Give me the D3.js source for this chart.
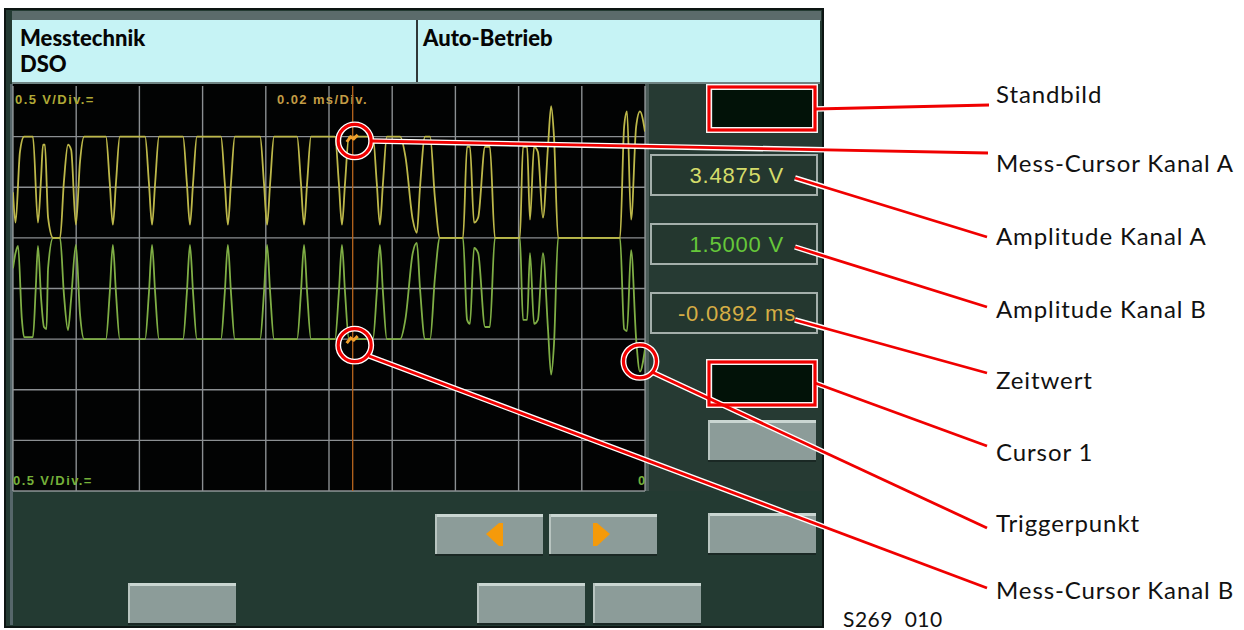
<!DOCTYPE html>
<html>
<head>
<meta charset="utf-8">
<script src="https://cdn.jsdelivr.net/npm/d3@7"></script>
<style>
  body { margin: 0; background: #fff; }
  svg { display: block; font-family: Lato, "DejaVu Sans", sans-serif; }
</style>
</head>
<body>
<svg width="1244" height="630"></svg>
<script>
// ---- data (time in µs, voltage in V) ----
var chanA = [
  [-200,2.95],[-199.2,2.65],[-197.8,3.35],[-196.5,3.5],[-193.7,3.5],[-192.1,2.65],[-191.1,3.1],[-190.5,3.42],[-189.9,3.42],
  [-188.9,2.7],[-187.3,2.5],[-185.1,2.5],[-183.9,3.05],[-182.6,3.42],[-181.6,3.37],[-180.1,2.63],[-178.8,3.25],[-177.5,3.5],
  [-170.6,3.5],[-169.4,3.05],[-168.4,2.63],[-167.4,3.05],[-166.2,3.5],
  [-158.2,3.5],[-157,3.05],[-156,2.63],[-155,3.05],[-153.8,3.5],
  [-146.2,3.5],[-145,3.05],[-144,2.63],[-143,3.05],[-141.8,3.5],
  [-134.2,3.5],[-133,3.05],[-132,2.63],[-131,3.05],[-129.8,3.5],
  [-121.8,3.5],[-120.6,3.05],[-119.6,2.63],[-118.6,3.05],[-117.4,3.5],
  [-110.1,3.5],[-108.9,3.05],[-107.9,2.63],[-106.9,3.05],[-105.7,3.5],
  [-98.1,3.5],[-96.9,3.05],[-95.9,2.63],[-94.9,3.05],[-93.7,3.5],
  [-86.1,3.5],[-84.9,3.05],[-83.9,2.63],[-82.9,3.05],[-81.7,3.5],
  [-77.5,3.5],[-75.8,3.3],[-73.5,2.68],[-72.2,2.55],[-71.2,3.0],[-69.6,3.5],[-68,3.5],[-66.5,2.9],[-64.9,2.5],
  [-57.6,2.5],[-56.3,3.4],[-55.4,3.4],[-54.1,2.65],[-52.8,2.7],[-50.6,3.4],[-49.1,3.4],[-47.5,2.5],
  [-39.6,2.5],[-38.6,3.4],[-37.3,3.4],[-36.4,2.68],[-35.1,3.4],[-33.9,3.35],[-32.3,2.7],[-30.7,3.4],[-29.7,3.8],[-28.8,3.5],[-27.5,2.5],
  [-7.9,2.5],[-6.6,3.6],[-5.7,3.75],[-4.4,2.68],[-2.8,3.6],[-1.6,3.75],[0,3.55]
];
var chanB = [
  [-200,2.2],[-199.2,2.35],[-198.4,2.42],[-197.2,1.7],[-196.5,1.52],[-193.7,1.52],[-192.8,2.0],[-192.1,2.42],[-191.1,1.9],
  [-190.2,1.62],[-189.4,1.6],[-188.9,2.2],[-187.3,2.5],[-185.1,2.5],[-183.9,1.95],[-182.6,1.59],[-181.6,1.9],[-180.1,2.43],[-178.8,1.75],[-177.5,1.5],
  [-170.6,1.5],[-169.4,1.95],[-168.4,2.43],[-167.4,1.95],[-166.2,1.5],
  [-158.2,1.5],[-157,1.95],[-156,2.43],[-155,1.95],[-153.8,1.5],
  [-146.2,1.5],[-145,1.95],[-144,2.43],[-143,1.95],[-141.8,1.5],
  [-134.2,1.5],[-133,1.95],[-132,2.43],[-131,1.95],[-129.8,1.5],
  [-121.8,1.5],[-120.6,1.95],[-119.6,2.43],[-118.6,1.95],[-117.4,1.5],
  [-110.1,1.5],[-108.9,1.95],[-107.9,2.43],[-106.9,1.95],[-105.7,1.5],
  [-98.1,1.5],[-96.9,1.95],[-95.9,2.43],[-94.9,1.95],[-93.7,1.5],
  [-86.1,1.5],[-84.9,1.95],[-83.9,2.43],[-82.9,1.95],[-81.7,1.5],
  [-77.5,1.5],[-75.8,1.7],[-73.5,2.35],[-72.2,2.45],[-71.2,2.0],[-69.6,1.5],[-68,1.5],[-66.5,2.1],[-64.9,2.5],
  [-57.6,2.5],[-56.3,1.69],[-55.4,1.65],[-54.1,2.4],[-52.8,2.35],[-50.6,1.62],[-49.1,1.62],[-47.5,2.5],
  [-39.6,2.5],[-38.6,1.69],[-37.3,1.69],[-36.4,2.35],[-35.1,1.65],[-33.9,1.69],[-32.3,2.35],[-30.7,1.6],[-29.7,1.15],[-28.8,1.45],[-27.5,2.5],
  [-7.9,2.5],[-6.6,1.6],[-5.7,1.58],[-4.4,2.38],[-2.8,1.5],[-1.6,1.18],[0,1.4]
];
var cursorTime = -92.5;       // µs
var cursorVolts = [3.4875, 1.5];
var triggerTime = -1.6;
var triggerVolt = 1.3;
var readouts = ["3.4875 V", "1.5000 V", "-0.0892 ms"];
var headerLeft = ["Messtechnik", "DSO"];
var headerRight = "Auto-Betrieb";
var scopeLabels = ["0.5 V/Div.=", "0.02 ms/Div.", "0.5 V/Div.=", "0"];
var callouts = ["Standbild", "Mess-Cursor Kanal A", "Amplitude Kanal A", "Amplitude Kanal B",
                "Zeitwert", "Cursor 1", "Triggerpunkt", "Mess-Cursor Kanal B"];
var figureId = "S269  010";

var svg = d3.select("svg");

// scope scales: 10 div x 0.02 ms, 8 div x 0.5 V
var x = d3.scaleLinear().domain([-200, 0]).range([13, 645]);
var y = d3.scaleLinear().domain([0, 4]).range([491, 86]);

// device body
svg.append("rect").attr("x", 5).attr("y", 9).attr("width", 818).attr("height", 618)
   .attr("fill", "#233a32").attr("stroke", "#0d1513").attr("stroke-width", 2);
svg.append("rect").attr("x", 12).attr("y", 11).attr("width", 809).attr("height", 10).attr("fill", "#5b6b6b");
svg.append("rect").attr("x", 12).attr("y", 20).attr("width", 808).attr("height", 63).attr("fill", "#c6f3f5");
svg.append("line").attr("x1", 417).attr("x2", 417).attr("y1", 20).attr("y2", 83)
   .attr("stroke", "#2e3838").attr("stroke-width", 2);
svg.append("line").attr("x1", 12).attr("x2", 820).attr("y1", 83).attr("y2", 83)
   .attr("stroke", "#6f8483").attr("stroke-width", 2);

svg.selectAll(".hl").data(headerLeft).enter().append("text")
   .attr("x", 20).attr("y", function(d, i) { return 46 + i * 26; })
   .attr("font-size", 22).attr("font-weight", 900).attr("fill", "#050505").text(function(d) { return d; });
svg.append("text").attr("x", 423).attr("y", 46).attr("font-size", 22).attr("font-weight", 900)
   .attr("fill", "#050505").text(headerRight);

// scope screen and side panel
svg.append("rect").attr("x", 13).attr("y", 84).attr("width", 632).attr("height", 407).attr("fill", "#020303");
svg.append("rect").attr("x", 645).attr("y", 84).attr("width", 176).attr("height", 407).attr("fill", "#263a33");
svg.append("rect").attr("x", 645).attr("y", 84).attr("width", 4).attr("height", 407).attr("fill", "#4b5b58");
svg.append("rect").attr("x", 10).attr("y", 84).attr("width", 3).attr("height", 541).attr("fill", "#56666a");

// grid
var grid = svg.append("g").attr("stroke", "#a3a8ab").attr("stroke-width", 1.4).attr("opacity", 0.85);
grid.selectAll(".gx").data(d3.range(-200, 1, 20)).enter().append("line")
    .attr("x1", function(d) { return x(d); }).attr("x2", function(d) { return x(d); })
    .attr("y1", y(4)).attr("y2", y(0));
grid.selectAll(".gy").data(d3.range(0, 3.6, 0.5)).enter().append("line")
    .attr("y1", function(d) { return y(d); }).attr("y2", function(d) { return y(d); })
    .attr("x1", x(-200)).attr("x2", x(0));

// scale labels on screen
var lab = svg.append("g").attr("font-family", "Liberation Sans, Arial, sans-serif")
   .attr("font-size", 13).attr("font-weight", "bold").attr("letter-spacing", 1.4);
lab.append("text").attr("x", 15).attr("y", 104).attr("fill", "#b0a936").text(scopeLabels[0]);
lab.append("text").attr("x", 277).attr("y", 104).attr("fill", "#c29c45").text(scopeLabels[1]);
lab.append("text").attr("x", 13).attr("y", 485).attr("fill", "#75b03a").text(scopeLabels[2]);
lab.append("text").attr("x", 638).attr("y", 485).attr("fill", "#75b03a").text(scopeLabels[3]);

// traces
svg.append("clipPath").attr("id", "scr").append("rect")
   .attr("x", 13).attr("y", 86).attr("width", 632).attr("height", 405);
var line = d3.line().x(function(d) { return x(d[0]); }).y(function(d) { return y(d[1]); })
   .curve(d3.curveMonotoneX);
var tr = svg.append("g").attr("clip-path", "url(#scr)").attr("fill", "none");
tr.append("path").datum(chanB).attr("d", line).attr("stroke", "#7fae45").attr("stroke-width", 1.8);
tr.append("path").datum(chanA).attr("d", line).attr("stroke", "#bdb84a").attr("stroke-width", 1.8);

// measurement cursor
tr.append("line").attr("x1", x(cursorTime)).attr("x2", x(cursorTime)).attr("y1", y(4)).attr("y2", y(0))
  .attr("stroke", "#b9661e").attr("stroke-width", 1.3);
cursorVolts.forEach(function(v) {
  var cx = x(cursorTime), cy = y(v);
  tr.append("path").attr("d", "M" + (cx - 6) + "," + (cy + 4) + "L" + (cx - 2) + "," + (cy - 1) +
       "L" + (cx + 1) + "," + (cy + 1) + "L" + (cx + 5) + "," + (cy - 3))
    .attr("stroke", "#f0a02c").attr("stroke-width", 3);
});

// side panel readouts
var boxY = [155, 224, 293];
var readCol = ["#d4dc6a", "#66c83a", "#d6ae45"];
readouts.forEach(function(t, i) {
  svg.append("rect").attr("x", 651).attr("y", boxY[i]).attr("width", 166).attr("height", 40)
     .attr("fill", "#24372f").attr("stroke", "#a4afab").attr("stroke-width", 2);
  svg.append("text").attr("x", i == 2 ? 796 : 784).attr("y", boxY[i] + 28).attr("text-anchor", "end")
     .attr("font-family", "Liberation Sans, Arial, sans-serif").attr("font-size", 22).attr("letter-spacing", 0.8)
     .attr("fill", readCol[i]).text(t);
});
[[713, 90], [713, 365]].forEach(function(p) {
  svg.append("rect").attr("x", p[0]).attr("y", p[1]).attr("width", 99).attr("height", 37).attr("fill", "#021208");
});

// buttons
var buttons = [[708, 420], [435, 514], [549, 514], [708, 513], [128, 583], [477, 583], [593, 583]];
buttons.forEach(function(b) {
  var g = svg.append("g").attr("transform", "translate(" + b[0] + "," + b[1] + ")");
  g.append("rect").attr("width", 108).attr("height", 41).attr("fill", "#8c9c99");
  g.append("rect").attr("width", 108).attr("height", 3).attr("fill", "#cad6d2");
  g.append("rect").attr("width", 2).attr("height", 41).attr("fill", "#b8c4c0");
  g.append("rect").attr("y", 40).attr("width", 108).attr("height", 2).attr("fill", "#1a2824");
});
svg.append("path").attr("d", "M486,534 L499,523 L499,546 Z M499,523 h4 v23 h-4 Z").attr("fill", "#f59a0a");
svg.append("path").attr("d", "M610,534 L597,523 L597,546 Z M597,523 h-4 v23 h4 Z").attr("fill", "#f59a0a");

// callout marks (red with a white halo)
var ann = svg.append("g");
var circles = [[x(cursorTime) + 2, y(cursorVolts[0]) + 3], [x(cursorTime) + 2, y(cursorVolts[1]) + 6],
               [x(triggerTime), y(triggerVolt) + 2]];
var rects = [[709, 87], [709, 362]];
var leaders = [
  [815, 109, 989, 105], [372, 141, 988, 153], [795, 178, 987, 237], [795, 247, 987, 307],
  [795, 320, 987, 373], [815, 383, 987, 446], [652, 372, 987, 528], [369, 356, 987, 588]
];
[["#fff", 5.5], ["#f00000", 2.8]].forEach(function(s) {
  ann.selectAll(null).data(leaders).enter().append("line")
     .attr("x1", function(d) { return d[0]; }).attr("y1", function(d) { return d[1]; })
     .attr("x2", function(d) { return d[2]; }).attr("y2", function(d) { return d[3]; })
     .attr("stroke", s[0]).attr("stroke-width", s[1]);
  ann.selectAll(null).data(circles).enter().append("circle")
     .attr("cx", function(d) { return d[0]; }).attr("cy", function(d) { return d[1]; }).attr("r", 16.5)
     .attr("fill", "none").attr("stroke", s[0]).attr("stroke-width", s[1] + 0.4);
  ann.selectAll(null).data(rects).enter().append("rect")
     .attr("x", function(d) { return d[0]; }).attr("y", function(d) { return d[1]; })
     .attr("width", 106).attr("height", 43)
     .attr("fill", "none").attr("stroke", s[0]).attr("stroke-width", s[1] + 0.4);
});

// callout texts
var labelY = [103, 172, 245, 318, 389, 461, 532, 599];
svg.selectAll(".co").data(callouts).enter().append("text")
   .attr("x", 996).attr("y", function(d, i) { return labelY[i]; })
   .attr("font-size", 24).attr("letter-spacing", 0.9).attr("fill", "#111").text(function(d) { return d; });
svg.append("text").attr("x", 843).attr("y", 627).attr("font-size", 21).attr("letter-spacing", 0.5).attr("fill", "#111")
   .attr("xml:space", "preserve").style("white-space", "pre").text(figureId);
</script>
</body>
</html>
